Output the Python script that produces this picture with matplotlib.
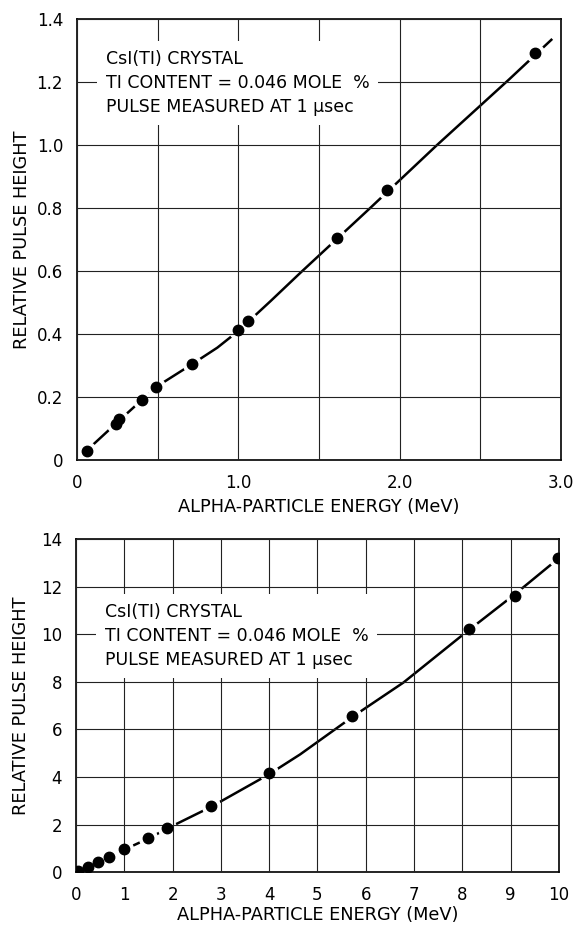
import numpy as np
import matplotlib
matplotlib.use("Agg")
import matplotlib.pyplot as plt

# points
energy_low = [0.06, 0.24, 0.26, 0.40, 0.49, 0.71, 1.00, 1.06, 1.61, 1.92, 2.84]
height_low = [0.03, 0.114, 0.13, 0.19, 0.233, 0.305, 0.414, 0.442, 0.704, 0.859, 1.293]
curve_low_x = [0.06, 0.25, 0.49, 0.715, 0.87, 1.0, 1.2, 1.385, 1.816, 2.23, 2.68, 2.94]
curve_low_y = [0.03, 0.12, 0.232, 0.305, 0.357, 0.41, 0.505, 0.595, 0.80, 1.00, 1.21, 1.335]

energy_high = [0.05, 0.25, 0.46, 0.69, 0.99, 1.50, 1.89, 2.79, 4.00, 5.72, 8.14, 9.10, 9.99]
height_high = [0.04, 0.23, 0.44, 0.65, 0.98, 1.45, 1.84, 2.78, 4.18, 6.57, 10.21, 11.62, 13.19]
curve_high_x = [0.05, 0.5, 1.0, 1.5, 2.0, 2.8, 4.0, 4.64, 5.74, 6.78, 8.0, 9.1, 10.0]
curve_high_y = [0.04, 0.45, 0.95, 1.42, 1.95, 2.75, 4.12, 4.95, 6.55, 7.97, 9.96, 11.7, 13.2]

xtick_labels_low = ["0", "", "1.0", "", "2.0", "", "3.0"]
yticks_low = [0, 0.2, 0.4, 0.6, 0.8, 1.0, 1.2, 1.4]
ytick_labels_low = ["0", "0.2", "0.4", "0.6", "0.8", "1.0", "1.2", "1.4"]
xticks_high = list(range(0, 11))
yticks_high = list(range(0, 15, 2))

note = "CsI(TI) CRYSTAL\nTI CONTENT = 0.046 MOLE  %\nPULSE MEASURED AT 1 μsec"

plt.rcParams['font.family'] = ['DejaVu Sans']

fig = plt.figure(figsize=(5.76, 9.25), dpi=100)
ax1 = fig.add_axes([0.1337, 0.5027, 0.8403, 0.4764])
ax2 = fig.add_axes([0.1319, 0.0570, 0.8385, 0.3603])


def draw(ax, cx, cy, ex, ey):
    ax.plot(cx, cy, color="black", lw=1.8, zorder=1)
    ax.plot(ex, ey, "o", color="white", ms=13, zorder=2)
    ax.plot(ex, ey, "o", color="black", ms=7.5, zorder=3)
    ax.set_axisbelow(False)
    ax.grid(True, color="#222222", lw=0.8, zorder=2.5)
    for s in ax.spines.values():
        s.set_linewidth(1.2)
    ax.tick_params(length=0, pad=10, labelsize=12)
    ax.set_xlabel("ALPHA-PARTICLE ENERGY (MeV)", fontsize=12.8, va="center")
    ax.set_ylabel("RELATIVE PULSE HEIGHT", fontsize=12.8, va="center")


draw(ax1, curve_low_x, curve_low_y, energy_low, height_low)
ax1.set_xlim(0, 3.0)
ax1.set_ylim(0, 1.4)
ax1.set_xticks(np.arange(0, 3.01, 0.5))
ax1.set_xticklabels(xtick_labels_low)
ax1.set_yticks(yticks_low)
ax1.set_yticklabels(ytick_labels_low)
ax1.xaxis.set_label_coords(0.5, -0.107)
ax1.yaxis.set_label_coords(-0.114, 0.5)
ax1.text(0.18, 1.197, note, va="center", ha="left", fontsize=12.5, linespacing=1.44, zorder=4,
         bbox=dict(facecolor="white", edgecolor="none", boxstyle="square,pad=0.5"))

draw(ax2, curve_high_x, curve_high_y, energy_high, height_high)
ax2.set_xlim(0, 10)
ax2.set_ylim(0, 14)
ax2.set_xticks(xticks_high)
ax2.set_yticks(yticks_high)
ax2.xaxis.set_label_coords(0.5, -0.128)
ax2.yaxis.set_label_coords(-0.114, 0.5)
ax2.text(0.6, 9.93, note, va="center", ha="left", fontsize=12.5, linespacing=1.44, zorder=4,
         bbox=dict(facecolor="white", edgecolor="none", boxstyle="square,pad=0.5"))

fig.savefig("out.png", dpi=100)
